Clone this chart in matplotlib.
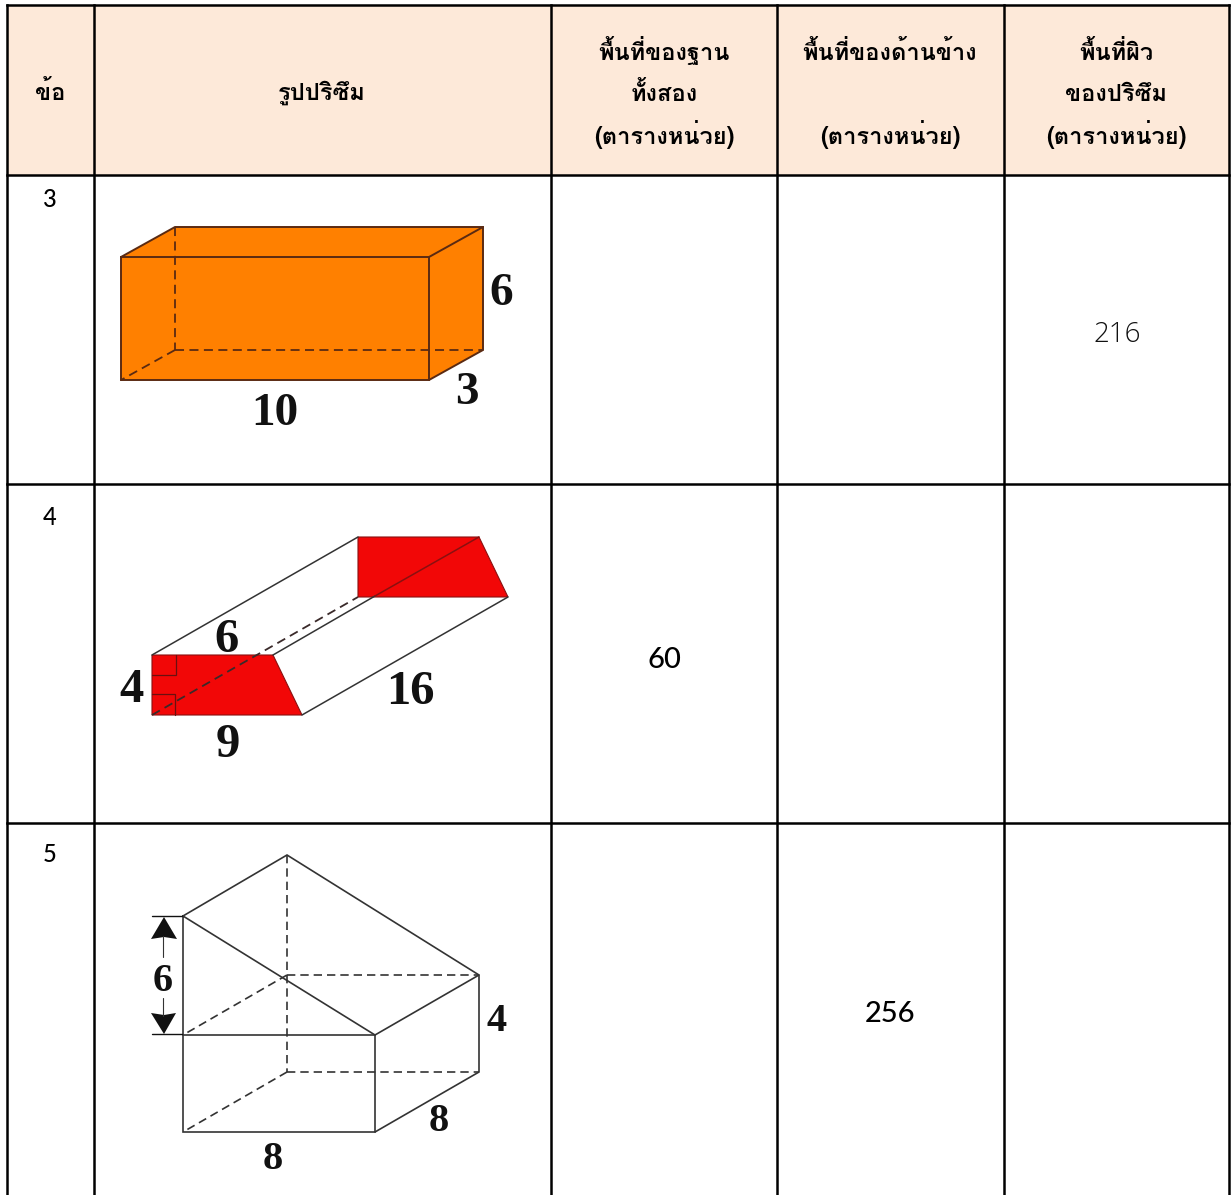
import matplotlib
matplotlib.use("Agg")
import matplotlib.pyplot as plt
from matplotlib.patches import Polygon, Rectangle

THAI = ["Loma", "DejaVu Sans"]
LATIN = ["Lato", "DejaVu Sans"]
LIGHT = ["Open Sans", "DejaVu Sans"]
SERIF = "Liberation Serif"

# table
col_x = [7, 94, 551, 777, 1004, 1229]
row_y = [5, 175, 484, 823, 1194]
header_color = "#FDE9D9"

head_1 = "ข้อ"
head_2 = "รูปปริซึม"
head_3 = ["พื้นที่ของฐาน", "ทั้งสอง", "(ตารางหน่วย)"]
head_4 = ["พื้นที่ของด้านข้าง", "", "(ตารางหน่วย)"]
head_5 = ["พื้นที่ผิว", "ของปริซึม", "(ตารางหน่วย)"]
row_names = ["3", "4", "5"]
row_name_y = [199, 517, 854]

# answers: text, x, y
thin_answers = [("216", 1117, 335)]
answers = [("60", 664, 660), ("256", 890, 1014)]

# box
box_front = [(121, 257), (429, 257), (429, 380), (121, 380)]
box_shape = [(121, 257), (175, 227), (483, 227), (483, 350), (429, 380), (121, 380)]
box_outline = [(121, 257), (175, 227), (483, 227), (483, 350), (429, 380)]
box_top_right = [(429, 257), (483, 227)]
box_hidden = [[(175, 227), (175, 350)], [(175, 350), (483, 350)], [(175, 350), (121, 380)]]
box_labels = [("6", 501, 289, 34), ("3", 467, 388, 34), ("10", 275, 409, 34)]
box_fill = "#FF8000"
box_line = "#5A2A12"

# trapezoid prism
trap_front = [(152, 655), (273, 655), (302, 715), (152, 715)]
trap_back = [(358, 537), (479, 537), (508, 597), (358, 597)]
trap_edges = [[(152, 655), (358, 537)], [(302, 715), (508, 597)], [(273, 655), (375, 596)]]
trap_edges_dark = [[(375, 596), (479, 537)]]
trap_hidden = [[(152, 715), (358, 597)]]
trap_marks = [[(152, 675), (176, 675), (176, 655)], [(152, 694), (175, 694), (175, 715)]]
trap_labels = [("6", 227, 635, 35), ("4", 131, 685, 35), ("9", 228, 740, 35), ("16", 410, 687, 35)]
trap_fill = "#F20707"

# house prism
house_lines = [
    [(183, 916), (287, 855), (479, 975), (375, 1035)],
    [(183, 916), (375, 1035), (375, 1132), (183, 1132), (183, 916)],
    [(183, 1035), (375, 1035)],
    [(479, 975), (479, 1072), (375, 1132)],
]
house_hidden = [
    [(287, 855), (287, 1072)],
    [(287, 975), (479, 975)],
    [(287, 1072), (479, 1072)],
    [(287, 975), (183, 1035)],
    [(287, 1072), (183, 1132)],
]
house_labels = [("6", 163, 977, 29), ("4", 497, 1017, 29), ("8", 273, 1155, 29), ("8", 439, 1117, 29)]
arrow_bars = [[(152, 916), (182, 916)], [(152, 1034), (182, 1034)]]
arrow_stems = [[(163, 936), (163, 957)], [(163, 998), (163, 1016)]]
arrow_heads = [
    [(164, 917), (151, 939), (164, 937), (177, 939)],
    [(164, 1034), (151, 1013), (164, 1015), (176, 1013)],
]


def draw_lines(ax, segs, color, lw, dashed=False):
    for seg in segs:
        xs = [p[0] for p in seg]
        ys = [p[1] for p in seg]
        ls = (0, (5, 3)) if dashed else "-"
        ax.plot(xs, ys, color=color, lw=lw, ls=ls, solid_capstyle="round", solid_joinstyle="miter")


def draw_labels(ax, labels):
    for s, x, y, size in labels:
        ax.text(x, y, s, family=SERIF, weight="bold", fontsize=size, ha="center", va="center_baseline", color="#111111")


def thai(ax, x, y, s, size=17):
    ax.text(x, y, s, family=THAI, fontsize=size, weight="bold", ha="center", va="baseline", color="black")


fig = plt.figure(figsize=(12.32, 11.95), dpi=100)
ax = fig.add_axes([0, 0, 1, 1])
ax.set_xlim(0, 1232)
ax.set_ylim(1195, 0)
ax.axis("off")

ax.add_patch(Rectangle((col_x[0], row_y[0]), col_x[-1] - col_x[0], row_y[1] - row_y[0], color=header_color, lw=0))

# drawings
ax.add_patch(Polygon(box_shape, closed=True, fc=box_fill, ec="none"))
draw_lines(ax, [box_front + box_front[:1]], box_line, 1.4)
draw_lines(ax, [box_outline, box_top_right], box_line, 1.4)
draw_lines(ax, box_hidden, box_line, 1.3, dashed=True)
draw_labels(ax, box_labels)

ax.add_patch(Polygon(trap_front, closed=True, fc=trap_fill, ec="#8A1010", lw=0.8))
ax.add_patch(Polygon(trap_back, closed=True, fc=trap_fill, ec="#8A1010", lw=0.8))
draw_lines(ax, trap_edges, "#333333", 1.1)
draw_lines(ax, trap_edges_dark, "#8A1010", 1.1)
draw_lines(ax, trap_hidden, "#3A2A2A", 1.3, dashed=True)
draw_lines(ax, trap_marks, "#6A1010", 0.9)
draw_labels(ax, trap_labels)

draw_lines(ax, house_lines, "#333333", 1.2)
draw_lines(ax, house_hidden, "#333333", 1.2, dashed=True)
draw_lines(ax, arrow_bars, "#111111", 1.0)
draw_lines(ax, arrow_stems, "#333333", 0.8)
for h in arrow_heads:
    ax.add_patch(Polygon(h, closed=True, fc="#111111", ec="none"))
draw_labels(ax, house_labels)

# grid
for x in col_x:
    ax.plot([x, x], [row_y[0], row_y[-1] + 1], color="black", lw=1.8, solid_capstyle="projecting")
for y in row_y[:-1]:
    ax.plot([col_x[0], col_x[-1]], [y, y], color="black", lw=1.8, solid_capstyle="projecting")

# text
thai(ax, 50, 100, head_1)
thai(ax, 322, 100, head_2)
head_x = [664, 890, 1116]
head_y = [60, 101, 144]
for x, lines in zip(head_x, [head_3, head_4, head_5]):
    for y, s in zip(head_y, lines):
        if s:
            thai(ax, x, y, s)

for s, y in zip(row_names, row_name_y):
    ax.text(50, y, s, family=LATIN, fontsize=17, weight="medium", ha="center", va="center", color="black")
for s, x, y in thin_answers:
    ax.text(x, y, s, family=LIGHT, fontsize=20, weight="light", ha="center", va="center", color="#111111")
for s, x, y in answers:
    ax.text(x, y, s, family=LATIN, fontsize=21, weight="medium", ha="center", va="center", color="black")

fig.savefig("out.png", dpi=100)
